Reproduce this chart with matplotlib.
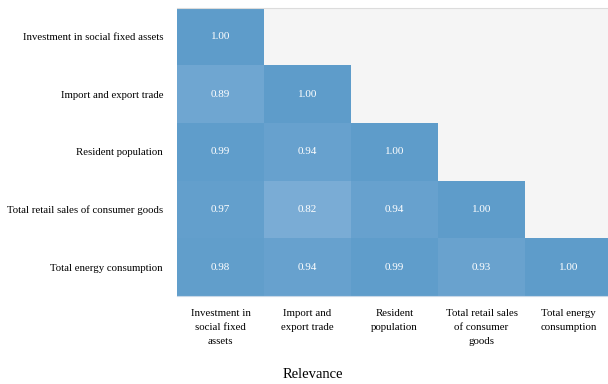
import numpy as np
import matplotlib
matplotlib.use("Agg")
import matplotlib.pyplot as plt
from matplotlib.colors import LinearSegmentedColormap

labels_y = ["Investment in social fixed assets", "Import and export trade",
            "Resident population", "Total retail sales of consumer goods",
            "Total energy consumption"]
labels_x = ["Investment in\nsocial fixed\nassets", "Import and\nexport trade",
            "Resident\npopulation", "Total retail sales\nof consumer\ngoods",
            "Total energy\nconsumption"]
row0 = [1.00]
row1 = [0.89, 1.00]
row2 = [0.99, 0.94, 1.00]
row3 = [0.97, 0.82, 0.94, 1.00]
row4 = [0.98, 0.94, 0.99, 0.93, 1.00]
rows = [row0, row1, row2, row3, row4]

n = len(rows)
M = np.full((n, n), np.nan)
for i, r in enumerate(rows):
    for j, v in enumerate(r):
        M[i, j] = v
Mm = np.ma.masked_invalid(M)

plt.rcParams['font.family'] = ['Liberation Serif', 'DejaVu Serif']
fig = plt.figure(figsize=(6.08, 3.84), dpi=100)
ax = fig.add_axes([177/608, 88/384, 435/608, 288.5/384])
ax.set_facecolor('#f5f5f5')
cmap = LinearSegmentedColormap.from_list('b', ['#7daed6', '#5e9cca'])
ax.pcolormesh(np.arange(n+1), np.arange(n+1), Mm, cmap=cmap, vmin=0.80, vmax=1.0)
ax.set_xlim(0, n)
ax.set_ylim(n, 0)
for i in range(n):
    for j in range(n):
        if not np.isnan(M[i, j]):
            ax.text(j+0.5, i+0.5, f"{M[i, j]:.2f}", ha='center', va='center',
                    color='white', fontsize=8)
ax.set_xticks(np.arange(n)+0.5)
ax.set_xticklabels(labels_x, fontsize=7.8, linespacing=1.75)
ax.set_yticks(np.arange(n)+0.5)
ax.set_yticklabels(labels_y, fontsize=7.75)
ax.tick_params(axis='x', length=0, pad=9)
ax.tick_params(axis='y', length=0, pad=10)
for s in ['left', 'right']:
    ax.spines[s].set_visible(False)
ax.spines['top'].set_color('#dcdcdc')
ax.spines['bottom'].set_color('#c8d8e8')
fig.text(313/608, 1-375/384, "Relevance", ha='center', va='center', fontsize=10.5)
fig.savefig('out.png', dpi=100)
